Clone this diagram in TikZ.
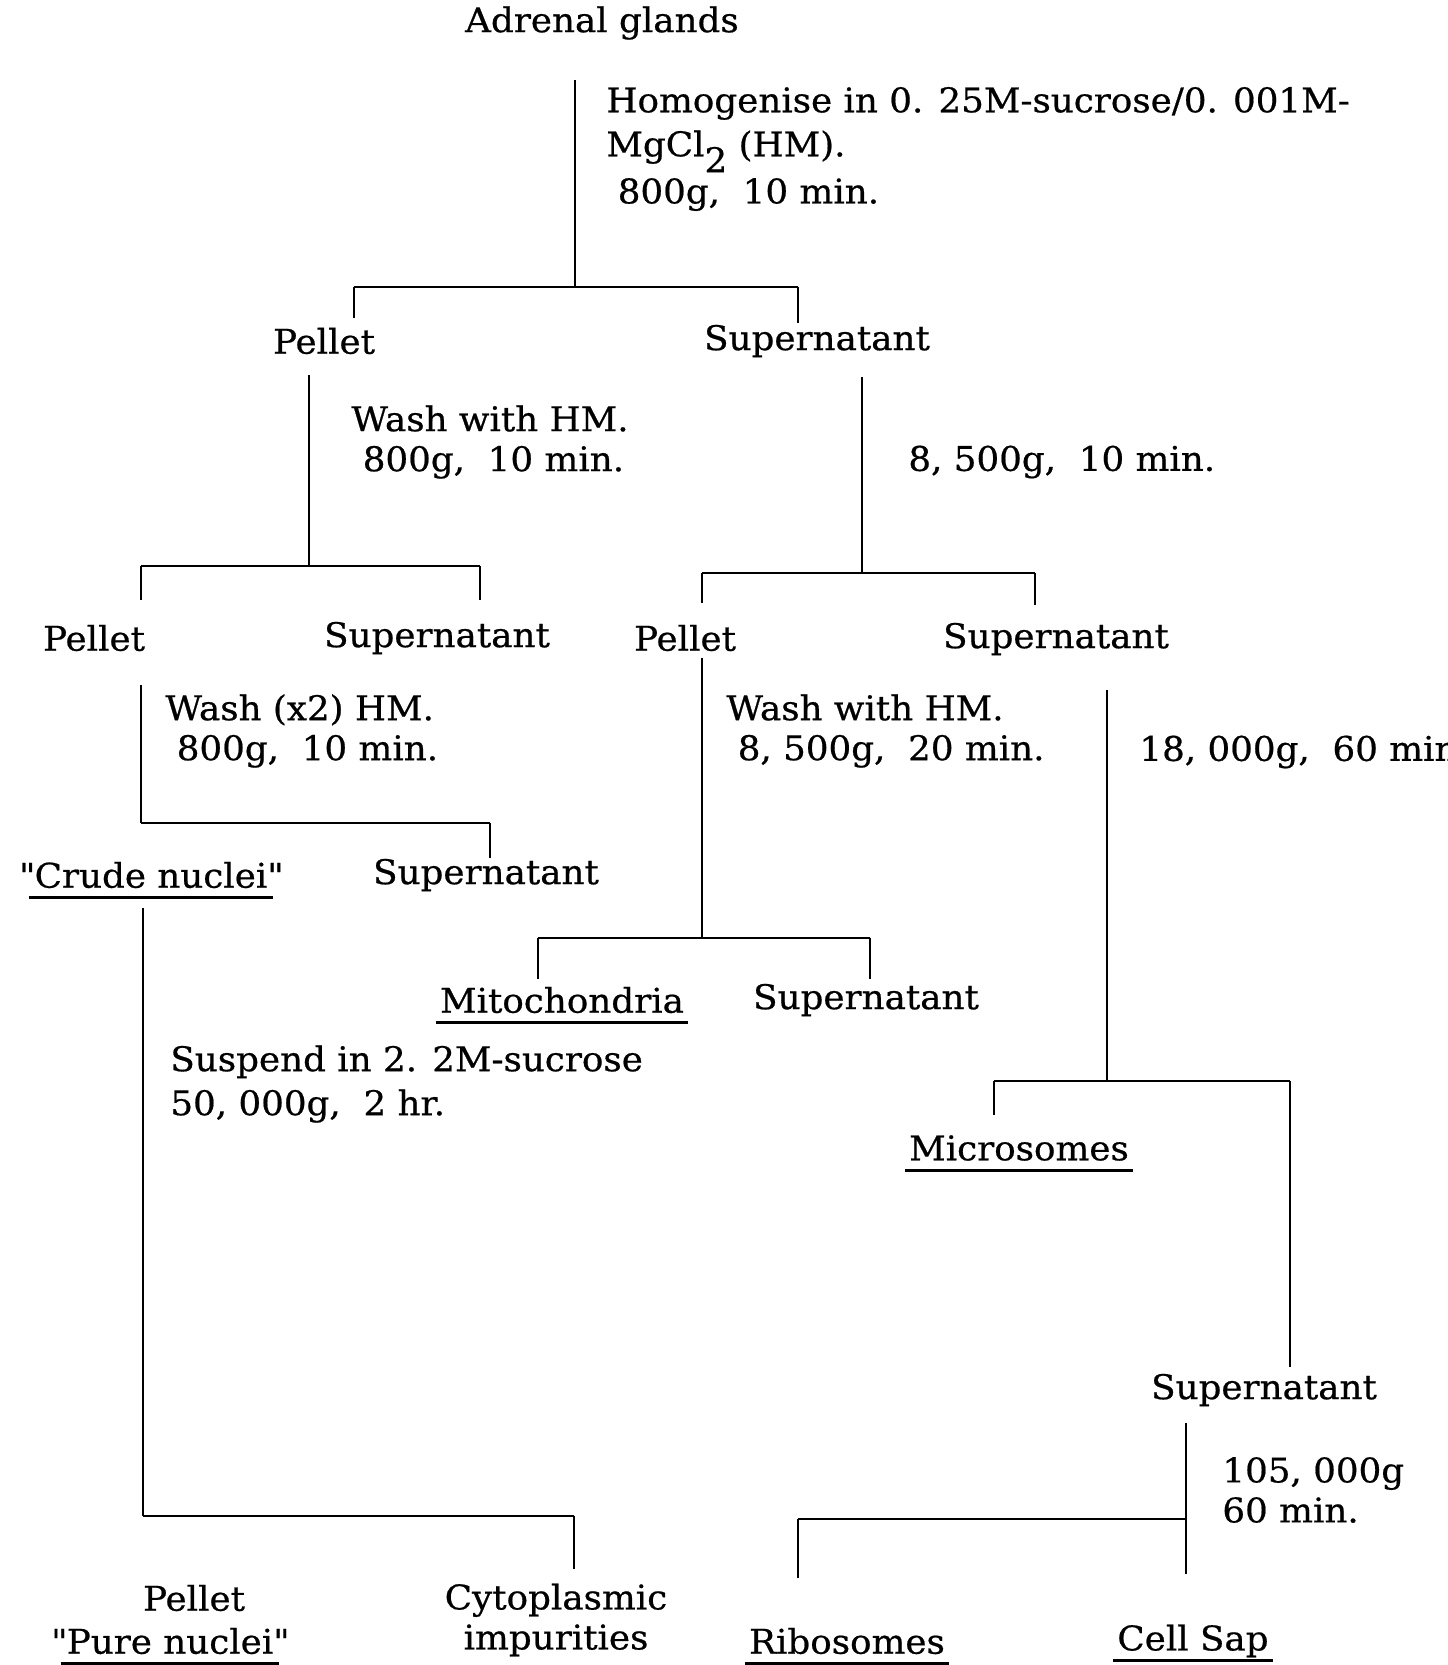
\documentclass[tikz,border=0pt]{standalone}
\usepackage{fontspec}
\setmainfont[FakeStretch=1.05,FakeBold=0.6]{DejaVu Serif}
\usetikzlibrary{arrows.meta,positioning,calc}

\tikzset{
  frac/.style={inner sep=0pt, font=\fontsize{17}{20}\selectfont},
  note/.style={frac, align=left, anchor=west},
  cut/.style={line width=0.8pt},
  bar/.style={line width=1.3pt},
  uline/.style={line width=1.7pt}
}

\begin{document}
\begin{tikzpicture}[x=0.5pt,y=-0.5pt]
            \useasboundingbox (0,0) rectangle (1447,1665);

            % fractions
            \node[frac] (adrenal) at (602,23) {Adrenal glands};
            \node[frac] (pelA) at (324,341) {Pellet};
            \node[frac] (supA) at (817,341) {Supernatant};
            \node[frac] (pelB) at (94,638) {Pellet};
            \node[frac] (supB) at (437,638) {Supernatant};
            \node[frac] (pelC) at (685,638) {Pellet};
            \node[frac] (supC) at (1056,639) {Supernatant};
            \node[frac] (crude) at (151,875) {\textquotedbl Crude nuclei\textquotedbl};
            \node[frac] (supD) at (486,875) {Supernatant};
            \node[frac] (mito) at (562,1000) {Mitochondria};
            \node[frac] (supE) at (866,1000) {Supernatant};
            \node[frac] (micro) at (1019,1148) {Microsomes};
            \node[frac] (supF) at (1264,1390) {Supernatant};
            \node[frac] (purepel) at (194,1598) {Pellet};
            \node[frac] (pure) at (170,1641) {\textquotedbl Pure nuclei\textquotedbl};
            \node[frac, align=center] (cyto) at (556,1620) {Cytoplasmic\\impurities};
            \node[frac] (ribo) at (847,1641) {Ribosomes};
            \node[frac] (cellsap) at (1193,1641) {Cell Sap};

            % steps
            \node[note] (homog) at (606,149)
                {Homogenise in 0. 25M-sucrose/0. 001M-\\[2pt]
                 MgCl\raisebox{-0.9ex}{2} (HM).\\[2pt]
                 \ 800g,\ \ 10 min.};
            \node[note] (washA) at (351,442) {Wash with HM.\\\ 800g,\ \ 10 min.};
            \node[note] (spinB) at (908,462) {8, 500g,\ \ 10 min.};
            \node[note] (washB) at (165,731) {Wash (x2) HM.\\\ 800g,\ \ 10 min.};
            \node[note] (washC) at (726,731) {Wash with HM.\\\ 8, 500g,\ \ 20 min.};
            \node[note] (spinC) at (1139,752) {18, 000g,\ \ 60 min.};
            \node[note] (suspend) at (170,1084) {Suspend in 2. 2M-sucrose\\[2pt]50, 000g,\ \ 2 hr.};
            \node[note] (spinD) at (1222,1490) {105, 000g\\60 min.};

            % line ends
            \coordinate (topA) at (575,80);    \coordinate (jA) at (575,287);
            \coordinate (endA1) at (354,318);  \coordinate (endA2) at (798,323);
            \coordinate (topB) at (309,375);   \coordinate (jB) at (309,566);
            \coordinate (endB1) at (141,600);  \coordinate (endB2) at (480,600);
            \coordinate (topC) at (862,377);   \coordinate (jC) at (862,573);
            \coordinate (endC1) at (702,603);  \coordinate (endC2) at (1035,605);
            \coordinate (topD) at (141,685);   \coordinate (jD) at (141,823);
            \coordinate (endD2) at (490,858);
            \coordinate (topE) at (702,658);   \coordinate (jE) at (702,938);
            \coordinate (endE1) at (538,979);  \coordinate (endE2) at (870,979);
            \coordinate (topF) at (1107,690);  \coordinate (jF) at (1107,1081);
            \coordinate (endF1) at (994,1115); \coordinate (endF2) at (1290,1367);
            \coordinate (topG) at (143,908);   \coordinate (jG) at (143,1516);
            \coordinate (endG2) at (574,1569);
            \coordinate (topH) at (1186,1423); \coordinate (jH) at (1186,1519);
            \coordinate (endH1) at (798,1578); \coordinate (endH2) at (1186,1574);

            % splits
            \draw[cut] (topA) -- (jA);
            \draw[cut] (endA1) -- (endA1 |- jA);
            \draw[bar] (endA1 |- jA) -- (endA2 |- jA);
            \draw[cut] (endA2 |- jA) -- (endA2);

            \draw[cut] (topB) -- (jB);
            \draw[cut] (endB1) -- (endB1 |- jB);
            \draw[bar] (endB1 |- jB) -- (endB2 |- jB);
            \draw[cut] (endB2 |- jB) -- (endB2);

            \draw[cut] (topC) -- (jC);
            \draw[cut] (endC1) -- (endC1 |- jC);
            \draw[bar] (endC1 |- jC) -- (endC2 |- jC);
            \draw[cut] (endC2 |- jC) -- (endC2);

            \draw[cut] (topD) -- (jD);
            \draw[bar] (jD) -- (endD2 |- jD);
            \draw[bar] (endD2 |- jD) -- (endD2);

            \draw[cut] (topE) -- (jE);
            \draw[cut] (endE1) -- (endE1 |- jE);
            \draw[bar] (endE1 |- jE) -- (endE2 |- jE);
            \draw[cut] (endE2 |- jE) -- (endE2);

            \draw[cut] (topF) -- (jF);
            \draw[cut] (endF1) -- (endF1 |- jF);
            \draw[bar] (endF1 |- jF) -- (endF2 |- jF);
            \draw[cut] (endF2 |- jF) -- (endF2);

            \draw[cut] (topG) -- (jG);
            \draw[bar] (jG) -- (endG2 |- jG);
            \draw[cut] (endG2 |- jG) -- (endG2);

            \draw[cut] (topH) -- (endH2);
            \draw[bar] (jH) -- (endH1 |- jH);
            \draw[cut] (endH1 |- jH) -- (endH1);

            % underlines
            \foreach \n in {mito,micro,ribo,cellsap}
                \draw[uline] ([xshift=-2pt,yshift=-5pt]\n.base west) -- ([xshift=2pt,yshift=-5pt]\n.base east);
            \foreach \n in {crude,pure}
                \draw[uline] ([xshift=5pt,yshift=-5pt]\n.base west) -- ([xshift=-5pt,yshift=-5pt]\n.base east);
        \end{tikzpicture}
\end{document}
